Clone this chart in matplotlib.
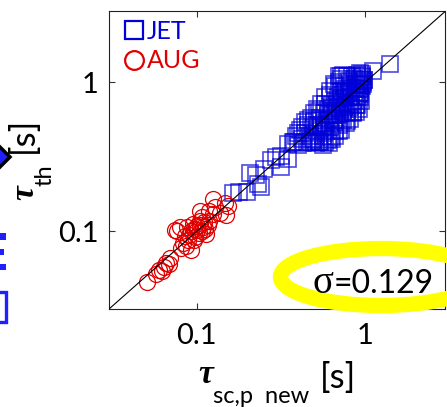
import matplotlib
matplotlib.use('Agg')
import matplotlib.pyplot as plt
from matplotlib.transforms import Affine2D
from matplotlib.patches import Ellipse, Polygon, Rectangle
from matplotlib.lines import Line2D
from matplotlib.ticker import NullLocator

plt.rcParams['font.family'] = ['Lato', 'DejaVu Sans']

# ---------------- data ----------------
jet_x = [0.165, 0.178, 0.200, 0.208, 0.230, 0.240, 0.252, 0.225, 0.278, 0.296,
         0.318, 0.318, 0.350, 0.348, 0.372,
         0.38, 0.39, 0.40, 0.40, 0.41, 0.42, 0.42, 0.43, 0.44, 0.44,
         0.45, 0.46, 0.46, 0.47, 0.48, 0.48, 0.49, 0.49, 0.50, 0.50,
         0.50, 0.51, 0.52, 0.52, 0.52, 0.53, 0.53, 0.54, 0.54, 0.55,
         0.55, 0.56, 0.56, 0.57, 0.57, 0.58, 0.58, 0.58, 0.58, 0.59,
         0.60, 0.60, 0.60, 0.61, 0.61, 0.62, 0.62, 0.62, 0.63, 0.63,
         0.64, 0.64, 0.64, 0.65, 0.65, 0.66, 0.66, 0.66, 0.66, 0.66,
         0.67, 0.68, 0.68, 0.69, 0.70, 0.70, 0.70, 0.70, 0.70, 0.71,
         0.71, 0.72, 0.72, 0.72, 0.72, 0.73, 0.74, 0.74, 0.74, 0.74,
         0.75, 0.75, 0.76, 0.76, 0.77, 0.77, 0.78, 0.78, 0.78, 0.79,
         0.80, 0.80, 0.80, 0.81, 0.82, 0.82, 0.83, 0.83, 0.84, 0.84,
         0.85, 0.86, 0.86, 0.87, 0.88, 0.88, 0.88, 0.89, 0.90, 0.90,
         0.91, 0.92, 0.92, 0.93, 0.94, 0.94, 0.95, 0.96, 0.96, 0.96,
         0.97, 0.90, 0.98, 0.93, 0.97, 0.94, 0.95, 0.92, 0.98, 0.94,
         1.11, 1.40, 0.96, 0.85]
jet_y = [0.180, 0.184, 0.183, 0.245, 0.208, 0.198, 0.262, 0.240, 0.300, 0.316,
         0.272, 0.322, 0.308, 0.388, 0.400,
         0.40, 0.44, 0.38, 0.46, 0.48, 0.42, 0.50, 0.39, 0.46, 0.54,
         0.40, 0.52, 0.56, 0.44, 0.40, 0.58, 0.50, 0.41, 0.42, 0.55,
         0.62, 0.39, 0.47, 0.52, 0.66, 0.40, 0.64, 0.58, 0.40, 0.50,
         0.72, 0.38, 0.44, 0.62, 0.46, 0.40, 0.53, 0.72, 0.80, 0.47,
         0.66, 0.41, 0.61, 0.39, 0.57, 0.50, 0.82, 0.88, 0.70, 0.43,
         0.60, 0.42, 0.67, 0.54, 0.98, 0.75, 0.47, 0.95, 0.56, 0.44,
         0.64, 0.58, 0.72, 0.80, 0.52, 0.68, 1.00, 0.47, 1.10, 0.62,
         0.77, 0.88, 0.48, 1.06, 1.10, 0.73, 0.56, 0.83, 0.64, 1.12,
         0.66, 0.95, 0.78, 0.90, 0.53, 0.70, 0.62, 1.11, 0.55, 0.85,
         0.74, 1.02, 0.88, 0.57, 0.68, 0.98, 0.80, 0.72, 0.91, 1.10,
         0.63, 0.75, 1.06, 0.86, 0.98, 0.92, 0.63, 0.70, 0.80, 1.12,
         0.92, 0.66, 1.00, 1.05, 0.85, 0.98, 0.75, 0.95, 1.10, 1.13,
         0.97, 0.70, 1.04, 0.80, 1.00, 0.90, 0.96, 0.84, 1.04, 1.16,
         1.20, 1.33, 1.08, 0.62]

aug_x = [0.051, 0.057, 0.060, 0.062, 0.064, 0.066, 0.069, 0.068,
         0.076, 0.080, 0.083, 0.086, 0.087, 0.089, 0.090, 0.092, 0.093,
         0.095, 0.096, 0.098, 0.100, 0.101, 0.103, 0.104, 0.105, 0.107,
         0.109, 0.110, 0.112, 0.114, 0.116, 0.119, 0.118, 0.104, 0.125,
         0.128, 0.137, 0.150, 0.153, 0.085, 0.097, 0.108, 0.125, 0.147,
         0.074, 0.081]
aug_y = [0.046, 0.052, 0.055, 0.054, 0.058, 0.061, 0.066, 0.060,
         0.100, 0.107, 0.083, 0.080, 0.107, 0.087, 0.095, 0.075, 0.100,
         0.112, 0.104, 0.092, 0.102, 0.108, 0.097, 0.118, 0.110, 0.100,
         0.107, 0.115, 0.103, 0.096, 0.110, 0.118, 0.138, 0.138, 0.130,
         0.146, 0.132, 0.128, 0.149, 0.093, 0.088, 0.124, 0.165, 0.155,
         0.102, 0.077]

diag = [0.03, 3.0]
ticks = [0.1, 1]
tick_labels = ['0.1', '1']
legend_labels = ['JET', 'AUG']
sigma_value = '0.129'

# ---------------- figure ----------------
W, H = 447, 407
fig = plt.figure(figsize=(W / 100, H / 100), dpi=100)
pix = Affine2D().scale(1 / W, -1 / H).translate(0, 1) + fig.transFigure

ax = fig.add_axes([108.7 / W, 1 - 309.3 / H, 336.6 / W, 298 / H])
ax.set_xscale('log')
ax.set_yscale('log')
ax.set_xlim(0.03, 3)
ax.set_ylim(0.03, 3)

blue = '#0000d8'
red = '#e00000'
ax.plot(jet_x, jet_y, ls='none', marker='s', ms=12, mfc='none',
        mec=blue, mew=1.2, alpha=0.7, zorder=2)
ax.plot(aug_x, aug_y, ls='none', marker='o', ms=11.5, mfc='none',
        mec=red, mew=0.9, zorder=2)
ax.plot(diag, diag, color='black', lw=0.8, zorder=3)

ax.set_xticks(ticks)
ax.set_xticklabels(tick_labels)
ax.set_yticks(ticks)
ax.set_yticklabels(tick_labels)
ax.xaxis.set_minor_locator(NullLocator())
ax.yaxis.set_minor_locator(NullLocator())
ax.tick_params(which='both', direction='in', top=True, right=True,
               length=4.5, width=0.8, labelsize=21, color='#333333')
ax.tick_params(axis='x', pad=10)
ax.tick_params(axis='y', pad=7.5)
for s in ax.spines.values():
    s.set_linewidth(0.8)
    s.set_color('#222222')

# legend
handles = [Line2D([], [], ls='none', marker='s', ms=13.5, mfc='none', mec=blue, mew=1.6),
           Line2D([], [], ls='none', marker='o', ms=13.5, mfc='none', mec=red, mew=1.6)]
ax.legend(handles=handles, labels=legend_labels, loc='upper left',
          bbox_to_anchor=(124, 20), bbox_transform=pix, frameon=False,
          fontsize=18, handlelength=0.8, handletextpad=0.12, labelspacing=0.25,
          borderpad=0, borderaxespad=0, labelcolor=[blue, red])

# yellow ellipse
ell = Ellipse((381, 277), 201, 57, transform=pix, fill=False,
              edgecolor='#ffff00', lw=11, zorder=2)
fig.add_artist(ell)

# sigma annotation
fig.text(333, 293, 'σ', transform=pix, ha='right', va='baseline',
         family=['Liberation Serif'], fontsize=28, zorder=5)
fig.text(334, 293, '=' + sigma_value, transform=pix, ha='left', va='baseline',
         fontsize=23, zorder=5)

# x label
fig.text(198, 383, 'τ', transform=pix, ha='left', va='baseline',
         family=['Liberation Serif'], weight='bold', style='italic', fontsize=24)
fig.text(213, 403, 'sc,p  new', transform=pix, ha='left', va='baseline', fontsize=17)
fig.text(320, 388, '[s]', transform=pix, ha='left', va='baseline', fontsize=25)

# y label
fig.text(33, 200, 'τ', transform=pix, ha='left', va='baseline', rotation=90,
         rotation_mode='anchor', family=['Liberation Serif'], weight='bold',
         style='italic', fontsize=24)
fig.text(52, 186, 'th', transform=pix, ha='left', va='baseline', rotation=90,
         rotation_mode='anchor', fontsize=17)
fig.text(33, 153, '[s]', transform=pix, ha='left', va='baseline', rotation=90,
         rotation_mode='anchor', fontsize=25)

# fragments of neighbouring panel at left edge
fig.add_artist(Polygon([(10, 157), (-2, 145), (-14, 157), (-2, 169)], closed=True,
                       transform=pix, facecolor='#2020ff', edgecolor='black', lw=2.5))
for (x0, y0, w, h) in [(0, 233, 6, 7), (0, 249, 4, 6), (0, 264, 6, 6)]:
    fig.add_artist(Rectangle((x0, y0), w, h, transform=pix, facecolor='#2020ff',
                             edgecolor='none'))
fig.add_artist(Rectangle((-20, 292), 26, 30, transform=pix, fill=False,
                         edgecolor='#2020ff', lw=2.4))

fig.savefig('out.png', dpi=100)
